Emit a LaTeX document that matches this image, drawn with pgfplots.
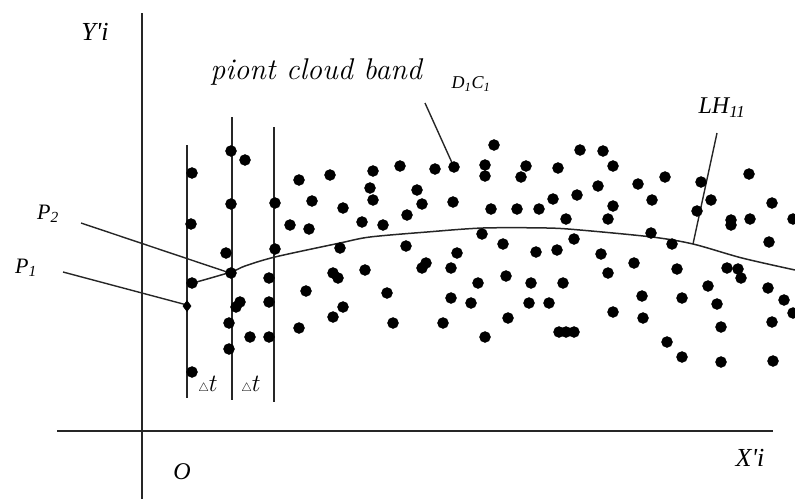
\documentclass[border=0pt]{standalone}
\usepackage{fontspec}
\usepackage{pgfplots}
\pgfplotsset{compat=1.18}
\newfontfamily\tnr{Liberation Serif}
\begin{document}
\begin{tikzpicture}
\begin{axis}[
  scale only axis, width=795pt, height=499pt,
  xmin=0, xmax=795, ymin=0, ymax=499, y dir=reverse,
  hide axis, clip=true,
]
% axes
\addplot[black!85, line width=1.7pt] coordinates {(57,431) (773,431)};
\addplot[black!85, line width=1.7pt] coordinates {(142,13) (142,499)};
% delta t lines
\addplot[black!85, line width=1.6pt] coordinates {(187,145) (187,398)};
\addplot[black!85, line width=1.6pt] coordinates {(232,117) (232,400)};
\addplot[black!85, line width=1.6pt] coordinates {(274,127) (274,402)};
% leaders
\addplot[black!85, line width=1.4pt] coordinates {(81,223) (230,273)};
\addplot[black!85, line width=1.4pt] coordinates {(63,272) (187,305)};
\addplot[black!85, line width=1.4pt] coordinates {(425,103) (453,165)};
\addplot[black!85, line width=1.4pt] coordinates {(717,133) (693,244)};
% curve LH11
\addplot[black!85, line width=1.5pt, smooth] coordinates {
(193,283) (231,272) (245,266) (275,257) (340,243) (370,237) (427,232) (483,228)
(547,228) (580,230) (652,237) (693,244) (742,258) (795,270)};
% point cloud
\addplot[only marks, mark=*, mark size=5.5pt, black] coordinates {
(192,173) (191,224) (192,283) (192,372)
(231,151) (245,160) (231,204) (226,253) (231,273) (240,302) (236,307) (229,323) (229,349) (250,337)
(275,203) (275,249) (269,278) (269,302) (269,337)
(299,180) (330,175) (312,201) (343,208) (290,225) (309,229) (362,222) (340,248) (365,270)
(333,273) (338,278) (306,291) (343,307) (333,317) (299,328)
(494,145) (373,171) (400,166) (435,169) (454,167) (485,165) (485,176) (526,166) (521,177)
(558,168) (580,150) (370,188) (373,200) (417,190) (422,204) (453,202) (491,209) (517,209)
(539,209) (553,199) (577,195) (566,219) (383,225) (407,215) (482,234) (574,239) (406,246)
(503,244) (457,253) (536,252) (557,250) (426,263) (422,268) (451,268) (478,283) (506,276)
(531,283) (563,283) (387,293) (451,298) (471,303) (529,303) (549,303) (393,323) (443,323)
(508,318) (485,337) (559,332) (566,332) (574,332)
(603,151) (613,166) (598,186) (638,184) (665,177) (701,182) (711,200) (697,211) (652,200)
(613,206) (608,219) (749,174) (772,203) (750,219) (731,220) (731,225) (793,219) (769,242)
(651,233) (672,244) (601,254) (634,263) (608,273) (677,269) (727,268) (738,269) (741,278)
(708,286) (642,296) (682,298) (717,304) (768,288) (784,300) (793,313) (613,312) (643,318)
(721,327) (772,322) (667,342) (682,357) (721,362) (773,361)
};
\addplot[only marks, mark=diamond*, mark size=5.5pt, black] coordinates {(187,306)};
% labels
\node[font=\tnr\itshape\fontsize{26}{28}\selectfont] at (axis cs:95,32) {Y'i};
\node[font=\itshape\fontsize{30}{32}\selectfont] at (axis cs:316,72) {piont cloud band};
\node[font=\tnr\itshape\fontsize{18}{20}\selectfont] at (axis cs:471,84) {D\textsubscript{1}C\textsubscript{1}};
\node[font=\tnr\itshape\fontsize{24}{26}\selectfont] at (axis cs:722,108) {LH\textsubscript{11}};
\node[font=\tnr\itshape\fontsize{22}{24}\selectfont] at (axis cs:48,214) {P\textsubscript{2}};
\node[font=\tnr\itshape\fontsize{22}{24}\selectfont] at (axis cs:26,268) {P\textsubscript{1}};
\node[font=\fontsize{24}{26}\selectfont] at (axis cs:208,385) {$\scriptscriptstyle\triangle\textstyle t$};
\node[font=\fontsize{24}{26}\selectfont] at (axis cs:251,385) {$\scriptscriptstyle\triangle\textstyle t$};
\node[font=\tnr\itshape\fontsize{24}{26}\selectfont] at (axis cs:182,472) {O};
\node[font=\tnr\itshape\fontsize{26}{28}\selectfont] at (axis cs:750,458) {X'i};
\end{axis}
\pgfresetboundingbox
\path[use as bounding box] (current axis.south west) rectangle (current axis.north east);
\end{tikzpicture}
\end{document}
